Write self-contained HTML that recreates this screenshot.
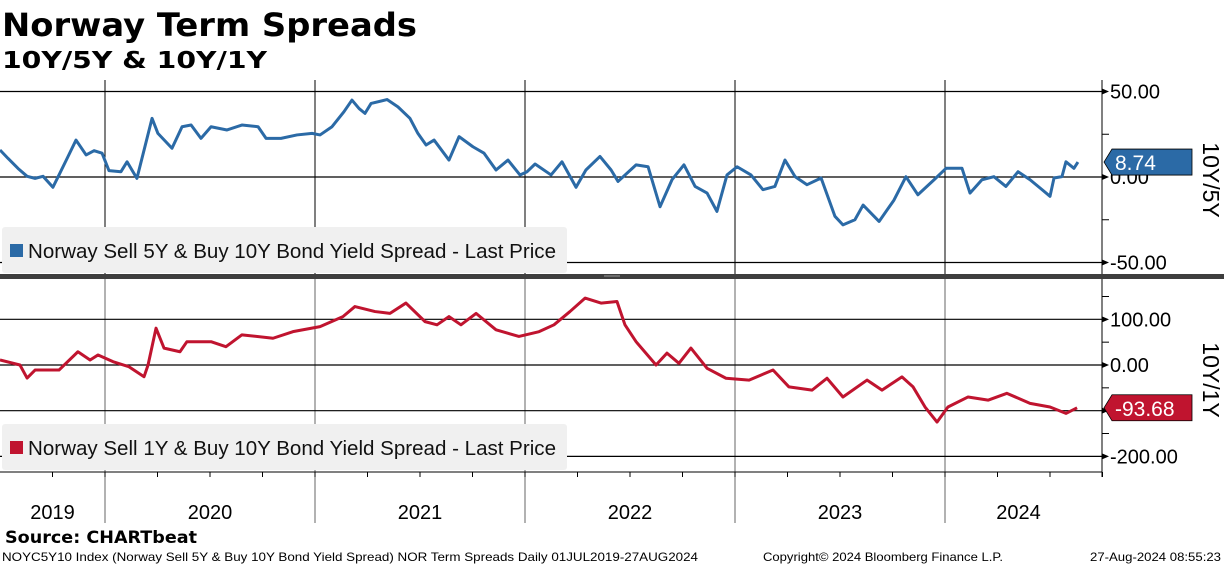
<!DOCTYPE html>
<html><head><meta charset="utf-8">
<style>
body{margin:0;background:#fff;width:1224px;height:566px;overflow:hidden;font-family:"Liberation Sans",Arial,sans-serif}
svg{position:absolute;left:0;top:0}
</style></head>
<body>
<svg id="c" width="1224" height="566"></svg>
<script>
// ---- data (years offset from 01-Jul-2019, spread in bp) ----
const t5 = [0,.038,.086,.129,.167,.205,.252,.281,.324,.362,.41,.448,.486,.519,.576,.605,.652,.69,.724,.752,.819,.867,.91,.957,1.005,1.081,1.152,1.229,1.267,1.338,1.414,1.486,1.524,1.581,1.638,1.676,1.71,1.738,1.767,1.843,1.895,1.952,1.99,2.029,2.067,2.138,2.186,2.252,2.305,2.362,2.419,2.476,2.51,2.548,2.624,2.676,2.743,2.79,2.857,2.91,2.943,3.029,3.086,3.143,3.2,3.257,3.31,3.367,3.414,3.462,3.51,3.576,3.633,3.69,3.738,3.786,3.843,3.91,3.976,4.014,4.071,4.11,4.186,4.257,4.314,4.371,4.448,4.505,4.581,4.619,4.676,4.733,4.79,4.848,4.905,4.962,5.0,5.019,5.057,5.076,5.114,5.133];
const v5 = [15.8,10.9,5,0.4,-0.8,0.4,-6,1.2,12,21.6,12.9,15.4,13.9,3.7,3.1,8.9,-0.8,17.7,34.3,25.5,16.8,29.4,30.4,22.6,29.4,27.5,30.4,29.4,22.6,22.6,24.6,25.5,24.6,29.4,38.2,45,40,37.2,43,45.3,41,34.3,25.5,18.7,21.6,9.9,23.6,17.7,13.9,4.1,9.9,1.2,3.1,7.6,1.2,8.9,-6,4.1,12,4.1,-2.6,7.1,6,-17.4,-1.6,7.1,-5.5,-9.4,-20.1,1.2,6,1.2,-7.4,-5.5,9.9,0.2,-4.5,-0.6,-23,-28,-25,-16.4,-26,-13.5,0.2,-10.4,-1.6,5.1,5.1,-9.4,-1.6,0.2,-5.5,3.1,-1.6,-7.4,-11.3,-0.6,0.2,8.9,5.1,8.74];
const t1 = [0,.095,.129,.167,.281,.371,.429,.467,.538,.614,.686,.705,.743,.781,.857,.89,1.005,1.076,1.152,1.3,1.395,1.524,1.633,1.69,1.786,1.857,1.933,2.024,2.081,2.138,2.195,2.267,2.362,2.471,2.567,2.638,2.714,2.786,2.862,2.938,2.976,3.029,3.124,3.176,3.233,3.29,3.367,3.457,3.567,3.681,3.757,3.867,3.938,4.014,4.129,4.2,4.295,4.348,4.405,4.462,4.514,4.61,4.705,4.795,4.905,5.0,5.076,5.129];
const v1 = [11,0,-28.6,-11,-11,29,11,22,7.3,-3.7,-25.6,0,80.6,37,29,51,51,40,66,58.6,73,84,106,128,117,113,135.6,95,88,106,88,113,77,62.6,73,88,117,146.5,135.6,139,88,51,0,26,3.7,37,-7.3,-29,-33,-11,-48,-55,-29,-70,-33,-55,-26,-48,-92,-125,-92,-70,-77,-62,-84,-92,-106,-93.68];
const yearLabels = ["2019","2020","2021","2022","2023","2024"];
const yearStarts = [0.5,1.5,2.5,3.5,4.5]; // offsets of Jan 1 2020..2024
const topTicks = [50,0,-50], topTickLabels=["50.00","0.00","-50.00"];
const botTicks = [100,0,-100,-200], botTickLabels=["100.00","0.00","","-200.00"];

const NS="http://www.w3.org/2000/svg", svg=document.getElementById('c');
function mk(tag,attrs,parent){const e=document.createElementNS(NS,tag);for(const k in attrs)e.setAttribute(k,attrs[k]);(parent||svg).appendChild(e);return e;}
const X = t => t*210;
const AX=1102;
const yTop = v => 177 - v*1.71;
const yBot = v => 365 - v*0.4567;

// title
let e;
e=mk('text',{x:2,y:36,'font-size':32,'font-weight':'bold',fill:'#000',textLength:415,lengthAdjust:'spacingAndGlyphs','font-family':'DejaVu Sans, sans-serif'});e.textContent='Norway Term Spreads';


e=mk('text',{x:2,y:68,'font-size':23,'font-weight':'bold',fill:'#000',textLength:265,lengthAdjust:'spacingAndGlyphs','font-family':'DejaVu Sans, sans-serif'});e.textContent='10Y/5Y & 10Y/1Y';



// vertical year gridlines
yearStarts.forEach(s=>{
  e=mk('line',{x1:X(s),x2:X(s),y1:80,y2:274,stroke:'#000','stroke-width':1});
  
  
  e=mk('line',{x1:X(s),x2:X(s),y1:279,y2:523,stroke:'#666','stroke-width':1});
  
  
});
// horizontal gridlines + ticks
topTicks.forEach((v,i)=>{
  e=mk('line',{x1:0,x2:AX,y1:yTop(v),y2:yTop(v),stroke:'#000','stroke-width':1.2});
  
  
  mk('path',{d:`M${AX} ${yTop(v)-3}L${AX+7} ${yTop(v)}L${AX} ${yTop(v)+3}Z`,fill:'#000'});
  e=mk('text',{x:AX+8,y:yTop(v)+7,'font-size':20,fill:'#000'});e.textContent=topTickLabels[i];
  
  
});
[25,-25].forEach(v=>mk('line',{x1:AX,x2:AX+7,y1:yTop(v),y2:yTop(v),stroke:'#000'}));
botTicks.forEach((v,i)=>{
  e=mk('line',{x1:0,x2:AX,y1:yBot(v),y2:yBot(v),stroke:'#000','stroke-width':1.2});
  
  
  mk('path',{d:`M${AX} ${yBot(v)-3}L${AX+7} ${yBot(v)}L${AX} ${yBot(v)+3}Z`,fill:'#000'});
  if(botTickLabels[i]){e=mk('text',{x:AX+8,y:yBot(v)+7,'font-size':20,fill:'#000'});e.textContent=botTickLabels[i];
  
  }
});
[150,50,-50,-150].forEach(v=>mk('line',{x1:AX,x2:AX+7,y1:yBot(v),y2:yBot(v),stroke:'#000'}));
// right axis lines
mk('line',{x1:AX,x2:AX,y1:80,y2:274,stroke:'#000'});
mk('line',{x1:AX,x2:AX,y1:279,y2:477,stroke:'#000'});
// x axis
e=mk('line',{x1:0,x2:AX,y1:472,y2:472,stroke:'#000'});


for(let q=0.25;q<5.3;q+=0.25){mk('line',{x1:X(q),x2:X(q),y1:472,y2:477,stroke:'#000'});}
const labelX=[X(0.25),X(1),X(2),X(3),X(4),X(4.85)];
yearLabels.forEach((y,i)=>{
  e=mk('text',{x:labelX[i],y:519,'font-size':20,'text-anchor':'middle',fill:'#000'});e.textContent=y;
  
  
});

// legends
function legend(y,color,txt,name){
  const g=mk('g',{});
  
  
  mk('rect',{x:2,y:y,width:565,height:46,rx:3,fill:'#f0f0f0'},g);
  mk('rect',{x:10,y:y+17,width:13,height:13,fill:color},g);
  const t=mk('text',{x:28,y:y+31,'font-size':20,fill:'#111',textLength:528,lengthAdjust:'spacingAndGlyphs'},g);t.textContent=txt;
}
legend(227,'#2b6aa6','Norway Sell 5Y & Buy 10Y Bond Yield Spread - Last Price','legend-10y5y');
legend(424,'#c0142f','Norway Sell 1Y & Buy 10Y Bond Yield Spread - Last Price','legend-10y1y');

// series
e=mk('polyline',{points:t5.map((t,i)=>X(t)+','+yTop(v5[i])).join(' '),fill:'none',stroke:'#2b6aa6','stroke-width':3,'stroke-linejoin':'round'});


e=mk('polyline',{points:t1.map((t,i)=>X(t)+','+yBot(v1[i])).join(' '),fill:'none',stroke:'#c0142f','stroke-width':3,'stroke-linejoin':'round'});



// separator
e=mk('rect',{x:0,y:274,width:1224,height:5,fill:'#3e3e3e'});


mk('line',{x1:604,x2:620,y1:276,y2:276,stroke:'#999'});

// value flags
function flag(v,yf,color,txt,name){
  const y=yf(v), g=mk('g',{});
  
  
  mk('path',{d:`M${AX+2} ${y}L${AX+10} ${y-13}L${AX+90} ${y-13}L${AX+90} ${y+13}L${AX+10} ${y+13}Z`,fill:color,stroke:'#000','stroke-width':0.8},g);
  const t=mk('text',{x:AX+13,y:y+8,'font-size':21,fill:'#fff'},g);t.textContent=txt;
}
flag(v5[v5.length-1],yTop,'#2b6aa6','8.74','last-value-10y5y');
flag(v1[v1.length-1],yBot,'#c0142f','-93.68','last-value-10y1y');

// axis titles
e=mk('text',{x:0,y:0,'font-size':23,fill:'#000','text-anchor':'middle',transform:'translate(1203,180) rotate(90)'});e.textContent='10Y/5Y';


e=mk('text',{x:0,y:0,'font-size':23,fill:'#000','text-anchor':'middle',transform:'translate(1203,380) rotate(90)'});e.textContent='10Y/1Y';



// footer
e=mk('text',{x:5,y:543,'font-size':17,'font-weight':'bold',fill:'#000',textLength:192,lengthAdjust:'spacingAndGlyphs','font-family':'DejaVu Sans, sans-serif'});e.textContent='Source: CHARTbeat';


e=mk('text',{x:2,y:561,'font-size':12,fill:'#000',textLength:696,lengthAdjust:'spacingAndGlyphs'});e.textContent='NOYC5Y10 Index (Norway Sell 5Y & Buy 10Y Bond Yield Spread) NOR Term Spreads  Daily 01JUL2019-27AUG2024';


e=mk('text',{x:763,y:561,'font-size':12,fill:'#000',textLength:240,lengthAdjust:'spacingAndGlyphs'});e.textContent='Copyright© 2024 Bloomberg Finance L.P.';


e=mk('text',{x:1090,y:561,'font-size':12,fill:'#000',textLength:131,lengthAdjust:'spacingAndGlyphs'});e.textContent='27-Aug-2024 08:55:23';


</script>
</body></html>
